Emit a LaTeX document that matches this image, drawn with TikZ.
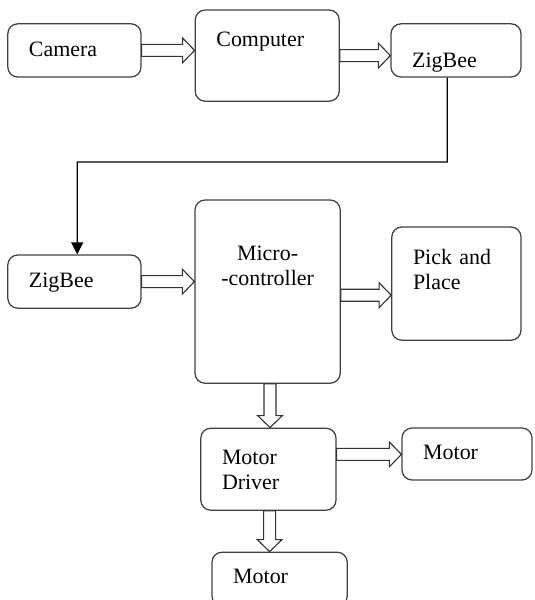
\documentclass[tikz,border=0pt]{standalone}
\usepackage{fontspec}
\setmainfont{Liberation Serif}
\usetikzlibrary{calc,arrows.meta}
\tikzset{
	block/.style={draw=black!75, line width=0.9pt, rounded corners=0.25cm, inner xsep=0.53cm, inner ysep=0pt, align=left, font=\fontsize{15.6}{17.8}\selectfont, text height=12pt, text depth=3.5pt},
	fat/.style={draw=black!80, line width=0.8pt, to path={
		($(\tikztotarget)!0.3cm!(\tikztostart)$) coordinate (fh)
		($(\tikztostart)!0.15cm!90:(\tikztotarget)$) -- ($(fh)!0.15cm!-90:(\tikztostart)$) -- ($(fh)!0.31cm!-90:(\tikztostart)$) -- (\tikztotarget) -- ($(fh)!0.31cm!90:(\tikztostart)$) -- ($(fh)!0.15cm!90:(\tikztostart)$) -- ($(\tikztostart)!0.15cm!-90:(\tikztotarget)$) -- cycle}},
	link/.style={black, line width=0.8pt, -{Triangle[length=0.3cm, width=0.3cm]}}
}
\begin{document}
\begin{tikzpicture}
	\useasboundingbox (0,0) rectangle (13.35,-15);
	\clip (0,0) rectangle (13.35,-15);
	\node[block, text width=2.27cm, minimum height=1.33cm] (cam) at (1.86,-1.26) {Camera};
	\node[block, text width=2.54cm, minimum height=2.28cm, text depth=25.4pt] (comp) at (6.68,-1.39) {Computer};
	\node[block, text width=2.19cm, minimum height=1.33cm, text height=27.4pt] (zigtx) at (11.4,-1.26) {ZigBee};
	\node[block, text width=2.27cm, minimum height=1.33cm] (zigrx) at (1.86,-7.04) {ZigBee};
	\node[block, text width=2.57cm, minimum height=4.58cm, align=center, text depth=56.4pt] (mcu) at (6.69,-7.29) {Micro-\\-controller};
	\node[block, text width=2.17cm, minimum height=2.83cm, text depth=38.6pt] (pick) at (11.41,-7.09) {Pick and\\Place};
	\node[block, text width=2.32cm, minimum height=2.05cm, text depth=19.4pt] (drv) at (6.71,-11.73) {Motor\\Driver};
	\node[block, text width=2.19cm, minimum height=1.3cm] (motr) at (11.675,-11.35) {Motor};
	\node[block, text width=2.32cm, minimum height=1.35cm, text depth=5.8pt] (motb) at (6.99,-14.48) {Motor};

	\coordinate (mcuout) at ([yshift=-0.09cm]mcu.east);
	\coordinate (mcudown) at ([xshift=0.06cm]mcu.south);
	\coordinate (drvout) at ([yshift=0.37cm]drv.east);
	\coordinate (drvdown) at ([xshift=0.03cm]drv.south);
	\coordinate (turn) at (11.18,-4.05);

	\draw[fat] (cam.east) to (cam.east -| comp.west);
	\draw[fat] (comp.east) to (comp.east -| zigtx.west);
	\draw[fat] (zigrx.east) to (zigrx.east -| mcu.west);
	\draw[fat] (mcuout) to (mcuout -| pick.west);
	\draw[fat] (mcudown) to (mcudown |- drv.north);
	\draw[fat] (drvout) to (drvout -| motr.west);
	\draw[fat] (drvdown) to (drvdown |- motb.north);
	\draw[link] ([xshift=-0.22cm]zigtx.south) -- (turn) -| ([xshift=0.07cm]zigrx.north);
\end{tikzpicture}
\end{document}
